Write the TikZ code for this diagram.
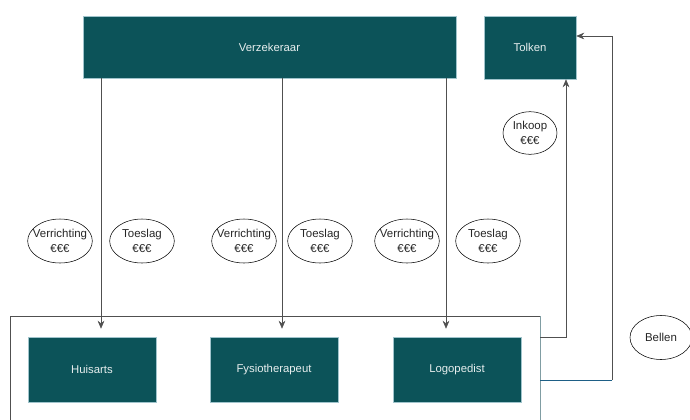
\documentclass[tikz,border=0pt]{standalone}
\usepackage{fontspec}
\setmainfont{Liberation Sans}
\usepackage{tikz}
\usetikzlibrary{shapes.geometric, arrows.meta}

\definecolor{teal}{RGB}{12,83,89}
\definecolor{rand}{RGB}{160,196,204}
\definecolor{lijn}{RGB}{80,80,80}
\definecolor{blauw}{RGB}{30,95,134}

\newcommand{\bedrag}[1]{\makebox[0pt]{#1}\\\makebox[0pt]{€€€}}

\tikzset{
    blok/.style = {draw=rand, fill=teal, text=white!90!teal, font=\fontsize{8.5}{10}\selectfont, inner sep=0pt},
    geld/.style = {ellipse, draw=black, thin, minimum width=48.5pt, minimum height=33pt, inner sep=0pt, align=center, text=black!85, font=\fontsize{8.6}{11}\selectfont},
    pijl/.style = {draw=lijn, thin, -{Stealth[length=6pt, width=5pt]}}
}

\begin{document}
\begin{tikzpicture}[x=0.75pt, y=-0.75pt]
        \useasboundingbox (0,0) rectangle (690,419);
        % blokken
        \node[blok, minimum width=279.75pt, minimum height=46.5pt] (verzekeraar) at (269.5,47) {Verzekeraar};
        \node[blok, minimum width=69pt, minimum height=47.25pt] (tolken) at (530,47.5) {Tolken};
        \node[blok, minimum width=96pt, minimum height=48.75pt] (huisarts) at (92,369.5) {Huisarts};
        \node[blok, minimum width=96pt, minimum height=48.75pt] (fysio) at (274,369.5) {Fysiotherapeut};
        \node[blok, minimum width=96pt, minimum height=48.75pt] (logo) at (457,369.5) {Logopedist};

        % kader om de zorgverleners
        \draw[lijn, thin] (10,425) -- (10,316) -- (540,316);
        \draw[rand!80!black, thin] (540,316) -- (540,425);
        \coordinate (uit1) at (540,337);
        \coordinate (uit2) at (540,380);

        % geldstromen
        \foreach \x/\doel in {101/huisarts, 282/fysio, 446/logo}
            \draw[pijl, shorten >=6pt] (verzekeraar.south -| \x,0) -- (\doel.north -| \x,0);
        \draw[pijl] (uit1) -| (tolken.south -| 566,0);
        \draw[blauw, thin] (uit2) -- (612,380) coordinate (hoek);
        \draw[pijl] (hoek) |- (tolken.east |- 0,36);

        % bedragen
        \node[geld] (verr1) at (60,241) {\bedrag{Verrichting}};
        \node[geld] (toes1) at (142,241) {\bedrag{Toeslag}};
        \node[geld] (verr2) at (244,241) {\bedrag{Verrichting}};
        \node[geld] (toes2) at (320,241) {\bedrag{Toeslag}};
        \node[geld] (verr3) at (407,241) {\bedrag{Verrichting}};
        \node[geld] (toes3) at (488,241) {\bedrag{Toeslag}};
        \node[geld, minimum width=40.5pt, minimum height=32pt] (inkoop) at (530,133) {\bedrag{Inkoop}};
        \node[geld, minimum width=46.5pt] (bellen) at (661,337.5) {Bellen};
    \end{tikzpicture}
\end{document}
